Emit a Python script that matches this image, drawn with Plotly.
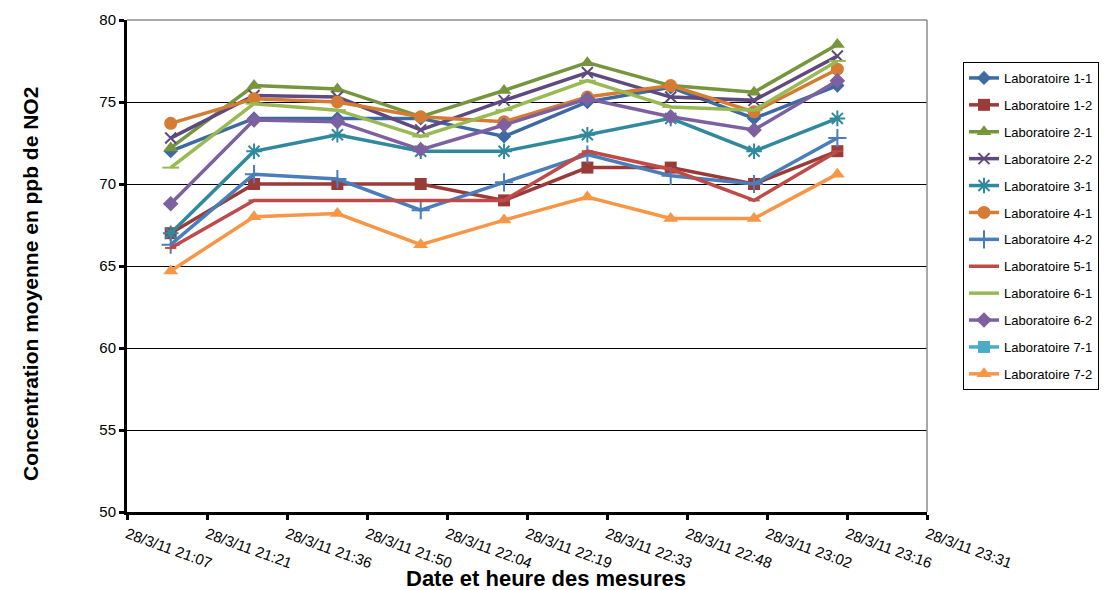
import pandas as pd
import plotly.graph_objects as go

# ---- data ----
times = ["2011-03-28 21:15", "2011-03-28 21:30", "2011-03-28 21:45",
         "2011-03-28 22:00", "2011-03-28 22:15", "2011-03-28 22:30",
         "2011-03-28 22:45", "2011-03-28 23:00", "2011-03-28 23:15"]

lab_1_1 = [72.0, 74.0, 74.0, 74.0, 72.9, 75.0, 75.9, 74.0, 76.0]
lab_1_2 = [67.0, 70.0, 70.0, 70.0, 69.0, 71.0, 71.0, 70.0, 72.0]
lab_2_1 = [72.2, 76.0, 75.8, 74.1, 75.7, 77.4, 76.0, 75.6, 78.5]
lab_2_2 = [72.8, 75.4, 75.3, 73.3, 75.1, 76.8, 75.3, 75.1, 77.8]
lab_3_1 = [67.0, 72.0, 73.0, 72.0, 72.0, 73.0, 74.0, 72.0, 74.0]
lab_4_1 = [73.7, 75.2, 75.0, 74.1, 73.8, 75.3, 76.0, 74.4, 77.0]
lab_4_2 = [66.3, 70.6, 70.3, 68.4, 70.1, 71.8, 70.5, 70.0, 72.8]
lab_5_1 = [66.1, 69.0, 69.0, 69.0, 69.0, 72.0, 70.9, 69.0, 72.0]
lab_6_1 = [71.0, 74.9, 74.5, 72.9, 74.5, 76.3, 74.7, 74.5, 77.5]
lab_6_2 = [68.8, 73.9, 73.8, 72.1, 73.6, 75.2, 74.1, 73.3, 76.3]
lab_7_1 = [None, None, None, None, None, None, None, None, None]
lab_7_2 = [64.7, 68.0, 68.2, 66.3, 67.8, 69.2, 67.9, 67.9, 70.6]

series_names = ["Laboratoire 1-1", "Laboratoire 1-2", "Laboratoire 2-1", "Laboratoire 2-2",
                "Laboratoire 3-1", "Laboratoire 4-1", "Laboratoire 4-2", "Laboratoire 5-1",
                "Laboratoire 6-1", "Laboratoire 6-2", "Laboratoire 7-1", "Laboratoire 7-2"]
series_values = [lab_1_1, lab_1_2, lab_2_1, lab_2_2, lab_3_1, lab_4_1, lab_4_2,
                 lab_5_1, lab_6_1, lab_6_2, lab_7_1, lab_7_2]

tick_labels = ["28/3/11 21:07", "28/3/11 21:21", "28/3/11 21:36", "28/3/11 21:50",
               "28/3/11 22:04", "28/3/11 22:19", "28/3/11 22:33", "28/3/11 22:48",
               "28/3/11 23:02", "28/3/11 23:16", "28/3/11 23:31"]

# ---- styles ----
colors = ["#3D6AA0", "#9B3B38", "#77953D", "#5F4A7F", "#31899E", "#D67B33",
          "#4A7EBB", "#BE4B48", "#98B954", "#7D60A0", "#4BACC6", "#F79646"]
symbols = ["diamond", "square", "triangle-up", "x-thin-open", "asterisk-open", "circle",
           "cross-thin-open", "line-ew-open", "line-ew-open", "diamond", "square", "triangle-up"]
sizes = [11, 12, 13, 11, 13, 13, 13, 8, 12, 12, 12, 13]

axis_start = pd.Timestamp("2011-03-28 21:07:08")
step = pd.Timedelta(seconds=864)
tickvals = [axis_start + i * step for i in range(len(tick_labels))]

fig = go.Figure()
for name, vals, c, s, sz in zip(series_names, series_values, colors, symbols, sizes):
    fig.add_trace(go.Scatter(
        x=pd.to_datetime(times), y=vals, name=name, mode="lines+markers",
        line=dict(color=c, width=3.5),
        marker=dict(symbol=s, size=sz, color=c, line=dict(color=c, width=2 if "open" in s else 0)),
        legendgroup=name,
    ))

fig.update_layout(
    width=1110, height=590,
    margin=dict(l=127, r=183, t=20, b=78, autoexpand=False),
    paper_bgcolor="white", plot_bgcolor="white",
    font=dict(family="Liberation Sans, Arial", color="black"),
    showlegend=True,
    legend=dict(
        x=(963 - 127) / 800, y=(512 - 62) / 492, xanchor="left", yanchor="top",
        bordercolor="black", borderwidth=1,
        font=dict(size=13, family="Liberation Sans, Arial"),
        traceorder="grouped", tracegroupgap=7,
    ),
    xaxis=dict(
        type="date", range=[tickvals[0], tickvals[-1]], automargin=False,
        tickvals=tickvals, ticktext=tick_labels, tickangle=20,
        showgrid=False, zeroline=False,
        showline=True, linecolor="black", linewidth=3,
        ticks="outside", ticklen=5, tickwidth=3, tickcolor="black",
        tickfont=dict(size=15),
    ),
    yaxis=dict(
        range=[50, 80], dtick=5, tick0=50, automargin=False,
        showgrid=True, gridcolor="black", gridwidth=1, zeroline=False,
        showline=True, linecolor="black", linewidth=3,
        ticks="outside", ticklen=5, tickwidth=3, tickcolor="black",
        tickfont=dict(size=15),
    ),
    shapes=[
        dict(type="line", xref="paper", yref="paper", x0=0, x1=1, y0=1, y1=1,
             line=dict(color="#8C8C8C", width=1.5)),
        dict(type="line", xref="paper", yref="paper", x0=1, x1=1, y0=0, y1=1,
             line=dict(color="#8C8C8C", width=1.5)),
    ],
    annotations=[
        dict(text="<b>Date et heure des mesures</b>", xref="paper", yref="paper",
             x=(546 - 127) / 800, y=-(578 - 512) / 492, xanchor="center", yanchor="middle",
             showarrow=False, font=dict(size=22)),
        dict(text="<b>Concentration moyenne en ppb de NO2</b>", xref="paper", yref="paper",
             x=(30 - 127) / 800, y=(512 - 284) / 492, xanchor="center", yanchor="middle",
             textangle=-90, showarrow=False, font=dict(size=21)),
    ],
)

fig.write_html("out.html", post_script="document.body.style.margin='0';",
               config={"displayModeBar": False})
